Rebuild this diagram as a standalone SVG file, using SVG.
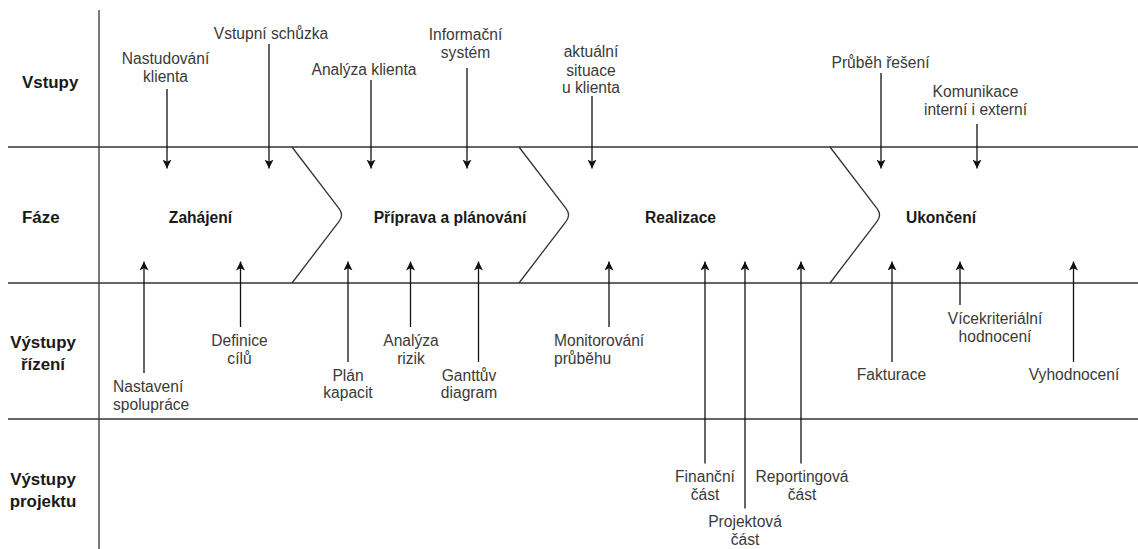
<svg xmlns="http://www.w3.org/2000/svg" width="1138" height="549" viewBox="0 0 1138 549">
  <defs>
    <marker id="arrow" viewBox="0 0 10 10" refX="10" refY="5" markerUnits="userSpaceOnUse" markerWidth="9" markerHeight="9" orient="auto">
      <path d="M0,0 L10,5 L0,10 L2.5,5 z" fill="#111"/>
    </marker>
  </defs>
  <style>
    .grid { stroke: #333; stroke-width: 1.3; fill: none; }
    .step { stroke: #333; stroke-width: 1.3; fill: none; stroke-linejoin: round; }
    .conn line { stroke: #111; stroke-width: 1.3; }
    .head { font-family: "Liberation Sans", Arial, sans-serif; font-size: 15.6px; font-weight: bold; fill: #1a1a1a; }
    .row { font-size: 16.9px; }
    .lbl { font-family: "Liberation Sans", Arial, sans-serif; font-size: 15.6px; fill: #3a3a3a; }
    .mid { text-anchor: middle; }
  </style>

  <rect width="1138" height="549" fill="#fff"/>

  <!-- swimlane grid -->
  <g id="grid">
    <line class="grid" x1="99" y1="10" x2="99" y2="549"/>
    <line class="grid" x1="8" y1="147" x2="1138" y2="147"/>
    <line class="grid" x1="8" y1="283" x2="1138" y2="283"/>
    <line class="grid" x1="8" y1="419" x2="1138" y2="419"/>
  </g>

  <!-- row headers -->
  <g id="row-vstupy"><text class="head row" x="22" y="87.7">Vstupy</text></g>
  <g id="row-faze"><text class="head row" x="22" y="223.3">Fáze</text></g>
  <g id="row-vystupy-rizeni">
    <text class="head row mid" x="43" y="348">Výstupy</text>
    <text class="head row mid" x="43" y="370">řízení</text>
  </g>
  <g id="row-vystupy-projektu">
    <text class="head row mid" x="43" y="484.5">Výstupy</text>
    <text class="head row mid" x="43" y="506.5">projektu</text>
  </g>

  <!-- phases -->
  <g id="phase-zahajeni"><text class="head mid" x="200.5" y="223">Zahájení</text></g>
  <g id="phase-priprava">
    <path class="step" d="M292,147 L339.1,208.6 Q344,215 339.1,221.4 L292,283"/>
    <text class="head mid" x="450" y="223">Příprava a plánování</text>
  </g>
  <g id="phase-realizace">
    <path class="step" d="M519,147 L566.1,208.6 Q571,215 566.1,221.4 L519,283"/>
    <text class="head mid" x="680.5" y="223">Realizace</text>
  </g>
  <g id="phase-ukonceni">
    <path class="step" d="M830,147 L877.1,208.6 Q882,215 877.1,221.4 L830,283"/>
    <text class="head mid" x="941" y="223">Ukončení</text>
  </g>

  <!-- inputs -->
  <g id="in-nastudovani">
    <text class="lbl mid" x="165.5" y="63.8">Nastudování</text>
    <text class="lbl mid" x="165.5" y="81.5">klienta</text>
  </g>
  <g id="in-vstupni-schuzka"><text class="lbl mid" x="271" y="38.8">Vstupní schůzka</text></g>
  <g id="in-analyza-klienta"><text class="lbl mid" x="364" y="74.5">Analýza klienta</text></g>
  <g id="in-informacni-system">
    <text class="lbl mid" x="465.5" y="39.5">Informační</text>
    <text class="lbl mid" x="465.5" y="57.8">systém</text>
  </g>
  <g id="in-aktualni-situace">
    <text class="lbl mid" x="591" y="57.2">aktuální</text>
    <text class="lbl mid" x="591" y="75.5">situace</text>
    <text class="lbl mid" x="591" y="93.2">u klienta</text>
  </g>
  <g id="in-prubeh-reseni"><text class="lbl mid" x="880.5" y="67.8">Průběh řešení</text></g>
  <g id="in-komunikace">
    <text class="lbl mid" x="975.5" y="96.5">Komunikace</text>
    <text class="lbl mid" x="975.5" y="114.5">interní i externí</text>
  </g>

  <!-- management outputs -->
  <g id="out-nastaveni-spoluprace">
    <text class="lbl" x="113" y="392.2">Nastavení</text>
    <text class="lbl" x="113" y="409.8">spolupráce</text>
  </g>
  <g id="out-definice-cilu">
    <text class="lbl mid" x="239.5" y="346.2">Definice</text>
    <text class="lbl mid" x="239.5" y="363.8">cílů</text>
  </g>
  <g id="out-plan-kapacit">
    <text class="lbl mid" x="348" y="380.5">Plán</text>
    <text class="lbl mid" x="348" y="398.2">kapacit</text>
  </g>
  <g id="out-analyza-rizik">
    <text class="lbl mid" x="411" y="346.2">Analýza</text>
    <text class="lbl mid" x="411" y="363.8">rizik</text>
  </g>
  <g id="out-ganttuv-diagram">
    <text class="lbl mid" x="469" y="380.5">Ganttův</text>
    <text class="lbl mid" x="469" y="398.2">diagram</text>
  </g>
  <g id="out-monitorovani">
    <text class="lbl" x="554" y="346.2">Monitorování</text>
    <text class="lbl" x="554" y="363.8">průběhu</text>
  </g>
  <g id="out-fakturace"><text class="lbl mid" x="891.5" y="379.8">Fakturace</text></g>
  <g id="out-vicekriterialni">
    <text class="lbl mid" x="995" y="323.8">Vícekriteriální</text>
    <text class="lbl mid" x="995" y="341.5">hodnocení</text>
  </g>
  <g id="out-vyhodnoceni"><text class="lbl mid" x="1074" y="379.8">Vyhodnocení</text></g>

  <!-- project outputs -->
  <g id="out-financni-cast">
    <text class="lbl mid" x="705" y="482.2">Finanční</text>
    <text class="lbl mid" x="705" y="499.8">část</text>
  </g>
  <g id="out-projektova-cast">
    <text class="lbl mid" x="745" y="527.2">Projektová</text>
    <text class="lbl mid" x="745" y="544.8">část</text>
  </g>
  <g id="out-reportingova-cast">
    <text class="lbl mid" x="802" y="482.2">Reportingová</text>
    <text class="lbl mid" x="802" y="499.8">část</text>
  </g>

  <!-- connectors -->
  <g id="connectors" class="conn">
    <!-- inputs into phases -->
    <line x1="167" y1="89" x2="167" y2="168.5" marker-end="url(#arrow)"/>
    <line x1="269" y1="44" x2="269" y2="168.5" marker-end="url(#arrow)"/>
    <line x1="371" y1="80" x2="371" y2="168.5" marker-end="url(#arrow)"/>
    <line x1="467" y1="68" x2="467" y2="168.5" marker-end="url(#arrow)"/>
    <line x1="592" y1="96" x2="592" y2="168.5" marker-end="url(#arrow)"/>
    <line x1="881" y1="73" x2="881" y2="168.5" marker-end="url(#arrow)"/>
    <line x1="977" y1="124" x2="977" y2="168.5" marker-end="url(#arrow)"/>
    <!-- outputs from phases -->
    <line x1="144" y1="373" x2="144" y2="261.5" marker-end="url(#arrow)"/>
    <line x1="240.5" y1="327" x2="240.5" y2="261.5" marker-end="url(#arrow)"/>
    <line x1="348" y1="362" x2="348" y2="261.5" marker-end="url(#arrow)"/>
    <line x1="410.5" y1="327" x2="410.5" y2="261.5" marker-end="url(#arrow)"/>
    <line x1="478.5" y1="362" x2="478.5" y2="261.5" marker-end="url(#arrow)"/>
    <line x1="609" y1="327" x2="609" y2="261.5" marker-end="url(#arrow)"/>
    <line x1="705" y1="463.5" x2="705" y2="261.5" marker-end="url(#arrow)"/>
    <line x1="745" y1="508.5" x2="745" y2="261.5" marker-end="url(#arrow)"/>
    <line x1="801" y1="463.5" x2="801" y2="261.5" marker-end="url(#arrow)"/>
    <line x1="892" y1="362" x2="892" y2="261.5" marker-end="url(#arrow)"/>
    <line x1="960" y1="305" x2="960" y2="261.5" marker-end="url(#arrow)"/>
    <line x1="1073.5" y1="362" x2="1073.5" y2="261.5" marker-end="url(#arrow)"/>
  </g>
</svg>
